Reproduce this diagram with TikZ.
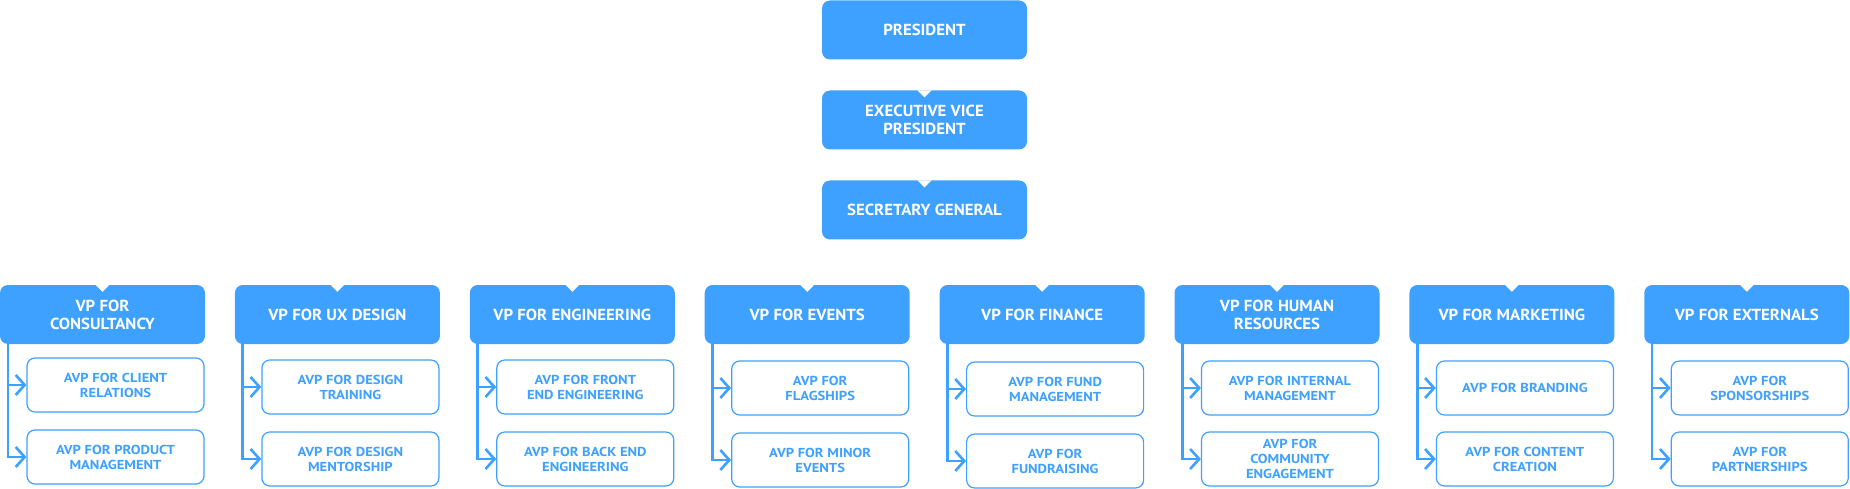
\documentclass[tikz,border=0pt]{standalone}
\usepackage{fontspec}
\setmainfont{PT Sans}
\newfontfamily\boxfont{PT Sans}[FakeStretch=1.05]
\newfontfamily\avpfont{PT Sans}[FakeStretch=1.12]
\usetikzlibrary{arrows.meta}
\definecolor{orgblue}{RGB}{62,160,255}
\tikzset{
  x=1pt, y=-1pt,
  topbox/.style={fill=orgblue, text=white, rounded corners=8pt, minimum width=205pt, minimum height=59pt,
    inner sep=0pt, align=center, font=\boxfont\bfseries\fontsize{16}{18}\selectfont},
  avpbox/.style={draw=orgblue, line width=1.2pt, fill=white, text=orgblue, rounded corners=8pt,
    minimum width=177pt, minimum height=54pt, inner sep=0pt, align=center,
    font=\avpfont\bfseries\fontsize{13}{15}\selectfont},
  link/.style={draw=orgblue, line width=2.6pt, -{Straight Barb[length=9pt,width=20pt,line width=2.6pt]}},
  notch/.style={fill=white}
}
\begin{document}
\begin{tikzpicture}
\useasboundingbox (0,0) rectangle (1850,489);
\node[topbox] (pres) at (924.5,30) {PRESIDENT};
\node[topbox] (evp) at (924.5,120) {EXECUTIVE VICE\\PRESIDENT};
\node[topbox] (sg) at (924.5,210) {SECRETARY GENERAL};
\foreach \n in {evp,sg}{
  \fill[notch] ([xshift=-7pt]\n.north) -- ([xshift=7pt]\n.north) -- ([yshift=-7pt]\n.north) -- cycle;
}
\foreach \i/\vp/\aa/\bb/\ya/\yb in {
  0/{VP FOR\\CONSULTANCY}/{AVP FOR CLIENT\\RELATIONS}/{AVP FOR PRODUCT\\MANAGEMENT}/385/457,
  1/{VP FOR UX DESIGN}/{AVP FOR DESIGN\\TRAINING}/{AVP FOR DESIGN\\MENTORSHIP}/387/459,
  2/{VP FOR ENGINEERING}/{AVP FOR FRONT\\END ENGINEERING}/{AVP FOR BACK END\\ENGINEERING}/387/459,
  3/{VP FOR EVENTS}/{AVP FOR\\FLAGSHIPS}/{AVP FOR MINOR\\EVENTS}/388/460,
  4/{VP FOR FINANCE}/{AVP FOR FUND\\MANAGEMENT}/{AVP FOR\\FUNDRAISING}/389/461,
  5/{VP FOR HUMAN\\RESOURCES}/{AVP FOR INTERNAL\\MANAGEMENT}/{AVP FOR\\COMMUNITY\\ENGAGEMENT}/388/459,
  6/{VP FOR MARKETING}/{AVP FOR BRANDING}/{AVP FOR CONTENT\\CREATION}/388/459,
  7/{VP FOR EXTERNALS}/{AVP FOR\\SPONSORSHIPS}/{AVP FOR\\PARTNERSHIPS}/388/459}{
  \pgfmathsetmacro{\xl}{\i*234.9}
  \node[topbox] (vp\i) at (\xl+102.5,314.5) {\vp};
  \fill[notch] ([xshift=-7pt]vp\i.north) -- ([xshift=7pt]vp\i.north) -- ([yshift=-7pt]vp\i.north) -- cycle;
  \node[avpbox] (a\i) at (\xl+115.5,\ya) {\aa};
  \node[avpbox] (b\i) at (\xl+115.5,\yb) {\bb};
  \coordinate (t\i) at ([xshift=8pt,yshift=4pt]vp\i.south west);
  \draw[link] (t\i) |- (a\i.west);
  \draw[link] (t\i) |- (b\i.west);
}
\end{tikzpicture}
\end{document}
